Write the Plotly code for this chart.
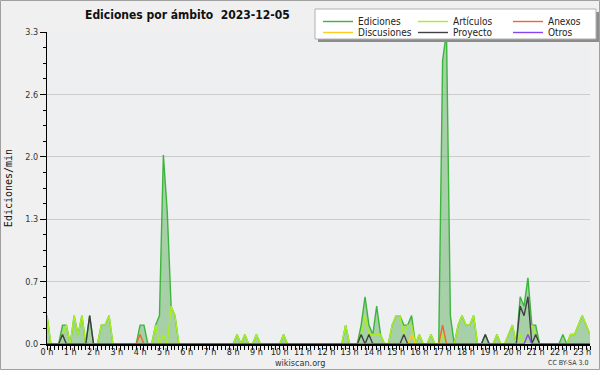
import plotly.graph_objects as go

# ---------------- data (10-minute steps, 00:00 .. 23:20) ----------------
minutes = list(range(0, 1410, 10))

ediciones = [
    0.3, 0, 0, 0, 0.2, 0.2, 0, 0.3, 0.1, 0.3, 0, 0.3,
    0, 0, 0.2, 0.2, 0.3, 0, 0, 0, 0, 0, 0, 0,
    0.2, 0.2, 0, 0, 0.2, 0.3, 2.0, 1.4, 0.4, 0.3, 0, 0,
    0, 0, 0, 0, 0, 0, 0, 0, 0, 0, 0, 0,
    0, 0.1, 0, 0.1, 0, 0, 0.1, 0, 0, 0, 0, 0,
    0, 0.1, 0, 0, 0, 0, 0, 0, 0, 0, 0, 0,
    0, 0, 0, 0, 0, 0.2, 0, 0, 0, 0.2, 0.5, 0.2,
    0.1, 0.4, 0.1, 0, 0, 0.2, 0.3, 0.3, 0.2, 0.2, 0.3, 0,
    0.1, 0, 0, 0.1, 0, 0, 3.0, 3.3, 0.3, 0, 0.2, 0.3,
    0.2, 0.2, 0.3, 0, 0, 0.1, 0, 0, 0.1, 0, 0, 0.1,
    0.2, 0, 0.5, 0.4, 0.7, 0.2, 0.2, 0, 0, 0, 0, 0,
    0, 0.1, 0, 0.1, 0.1, 0.2, 0.3, 0.2, 0.1,
]
articulos = [
    0.3, 0, 0, 0, 0.1, 0.2, 0, 0.3, 0.1, 0.3, 0, 0,
    0, 0, 0.2, 0.2, 0.3, 0, 0, 0, 0, 0, 0, 0,
    0, 0, 0, 0, 0.2, 0, 0.1, 0, 0.4, 0.3, 0, 0,
    0, 0, 0, 0, 0, 0, 0, 0, 0, 0, 0, 0,
    0, 0.1, 0, 0.1, 0, 0, 0.1, 0, 0, 0, 0, 0,
    0, 0.1, 0, 0, 0, 0, 0, 0, 0, 0, 0, 0,
    0, 0, 0, 0, 0, 0.2, 0, 0, 0, 0.1, 0.3, 0.1,
    0.1, 0.1, 0.1, 0, 0, 0.2, 0.3, 0.3, 0.1, 0.2, 0.2, 0,
    0.1, 0, 0, 0.1, 0, 0, 0.1, 0, 0, 0, 0.2, 0.3,
    0.2, 0.2, 0.3, 0, 0, 0, 0, 0, 0.1, 0, 0, 0.1,
    0.2, 0, 0.1, 0, 0.1, 0.2, 0.1, 0, 0, 0, 0, 0,
    0, 0, 0, 0.1, 0.1, 0.2, 0.3, 0.2, 0.1,
]
anexos = [
    0, 0, 0, 0, 0, 0, 0, 0, 0, 0, 0, 0,
    0, 0, 0, 0, 0, 0, 0, 0, 0, 0, 0, 0,
    0.1, 0, 0, 0, 0, 0, 0, 0, 0, 0, 0, 0,
    0, 0, 0, 0, 0, 0, 0, 0, 0, 0, 0, 0,
    0, 0, 0, 0, 0, 0, 0, 0, 0, 0, 0, 0,
    0, 0, 0, 0, 0, 0, 0, 0, 0, 0, 0, 0,
    0, 0, 0, 0, 0, 0, 0, 0, 0, 0, 0, 0,
    0, 0, 0, 0, 0, 0, 0, 0, 0, 0, 0, 0,
    0, 0, 0, 0, 0, 0, 0.2, 0, 0, 0, 0, 0,
    0, 0, 0, 0, 0, 0, 0, 0, 0, 0, 0, 0,
    0, 0, 0, 0, 0, 0, 0, 0, 0, 0, 0, 0,
    0, 0, 0, 0, 0, 0, 0, 0, 0,
]
discusiones = [
    0, 0, 0, 0, 0, 0, 0, 0, 0, 0, 0, 0,
    0, 0, 0, 0, 0, 0, 0, 0, 0, 0, 0, 0,
    0, 0, 0, 0, 0, 0, 0, 0, 0, 0, 0, 0,
    0, 0, 0, 0, 0, 0, 0, 0, 0, 0, 0, 0,
    0, 0, 0, 0, 0, 0, 0, 0, 0, 0, 0, 0,
    0, 0, 0, 0, 0, 0, 0, 0, 0, 0, 0, 0,
    0, 0, 0, 0, 0, 0, 0, 0, 0, 0, 0, 0,
    0, 0, 0, 0, 0, 0, 0, 0, 0, 0, 0.1, 0,
    0, 0, 0, 0, 0, 0, 0, 0, 0, 0, 0, 0,
    0, 0, 0, 0, 0, 0, 0, 0, 0, 0, 0, 0,
    0, 0, 0, 0, 0, 0, 0, 0, 0, 0, 0, 0,
    0, 0, 0, 0, 0, 0, 0, 0, 0,
]
proyecto = [
    0, 0, 0, 0, 0.1, 0, 0, 0, 0, 0, 0, 0.3,
    0, 0, 0, 0, 0, 0, 0, 0, 0, 0, 0, 0,
    0, 0, 0, 0, 0, 0, 0, 0, 0, 0, 0, 0,
    0, 0, 0, 0, 0, 0, 0, 0, 0, 0, 0, 0,
    0, 0, 0, 0, 0, 0, 0, 0, 0, 0, 0, 0,
    0, 0, 0, 0, 0, 0, 0, 0, 0, 0, 0, 0,
    0, 0, 0, 0, 0, 0, 0, 0, 0, 0.1, 0, 0.1,
    0, 0, 0, 0, 0, 0, 0, 0, 0.1, 0, 0, 0,
    0, 0, 0, 0, 0, 0, 0, 0, 0, 0, 0, 0,
    0, 0, 0, 0, 0, 0.1, 0, 0, 0, 0, 0, 0,
    0, 0, 0.4, 0.3, 0.5, 0, 0.1, 0, 0, 0, 0, 0,
    0, 0, 0, 0, 0, 0, 0, 0, 0,
]
otros = [
    0, 0, 0, 0, 0, 0, 0, 0, 0, 0, 0, 0,
    0, 0, 0, 0, 0, 0, 0, 0, 0, 0, 0, 0,
    0, 0, 0, 0, 0, 0, 0, 0, 0, 0, 0, 0,
    0, 0, 0, 0, 0, 0, 0, 0, 0, 0, 0, 0,
    0, 0, 0, 0, 0, 0, 0, 0, 0, 0, 0, 0,
    0, 0, 0, 0, 0, 0, 0, 0, 0, 0, 0, 0,
    0, 0, 0, 0, 0, 0, 0, 0, 0, 0, 0, 0,
    0, 0, 0, 0, 0, 0, 0, 0, 0, 0, 0, 0,
    0, 0, 0, 0, 0, 0, 0, 0, 0, 0, 0, 0,
    0, 0, 0, 0, 0, 0, 0, 0, 0, 0, 0, 0,
    0, 0, 0, 0, 0.1, 0, 0, 0, 0, 0, 0, 0,
    0, 0, 0, 0, 0, 0, 0, 0, 0,
]

hour_ticks = list(range(24))
hour_labels = ["0 h", "1 h", "2 h", "3 h", "4 h", "5 h", "6 h", "7 h", "8 h",
               "9 h", "10 h", "11 h", "12 h", "13 h", "14 h", "15 h", "16 h",
               "17 h", "18 h", "19 h", "20 h", "21 h", "22 h", "23 h"]
y_tickvals = [0, 0.66, 1.32, 1.98, 2.64, 3.3]
y_ticktext = ["0.0", "0.7", "1.3", "2.0", "2.6", "3.3"]

# ---------------- style ----------------
FONT = "DejaVu Sans Condensed, DejaVu Sans, sans-serif"
W, H = 600, 370
ML, MR, MT, MB = 47, 10, 32, 26
PW, PH = W - ML - MR, H - MT - MB


def px(x):
    return (x - ML) / PW


def py(y):
    return (H - MB - y) / PH


x_hours = [m / 60 for m in minutes]

fig = go.Figure()
# filled area of the total (no legend entry; the line below carries it)
fig.add_trace(go.Scatter(
    x=x_hours, y=ediciones, mode="none", fill="tozeroy",
    fillcolor="rgba(70,165,70,0.42)", showlegend=False, hoverinfo="skip"))

series = [
    ("Ediciones", ediciones, "#3db53d", "legend"),
    ("Artículos", articulos, "#aaee22", "legend"),
    ("Anexos", anexos, "#ee6630", "legend"),
    ("Discusiones", discusiones, "#ffcc22", "legend2"),
    ("Proyecto", proyecto, "#404040", "legend2"),
    ("Otros", otros, "#8844ee", "legend2"),
]
for name, vals, col, leg in series:
    fig.add_trace(go.Scatter(
        x=x_hours, y=vals, name=name, mode="lines",
        line=dict(color=col, width=1.4), legend=leg, hoverinfo="skip"))

leg_common = dict(orientation="h", xanchor="left", yanchor="top",
                  bgcolor="rgba(0,0,0,0)", borderwidth=0,
                  font=dict(family=FONT, size=10, color="#222"),
                  entrywidth=50, entrywidthmode="pixels", itemwidth=30,
                  tracegroupgap=0)

fig.update_layout(
    width=W, height=H,
    margin=dict(l=ML, r=MR, t=MT, b=MB, autoexpand=False),
    paper_bgcolor="#f0f0f0", plot_bgcolor="#eeeff1",
    font=dict(family=FONT, size=9, color="#222"),
    title=dict(text="Ediciones por ámbito\u00a0 2023-12-05",
               xref="container", yref="container", x=85 / W, y=1 - 15 / H,
               xanchor="left", yanchor="middle",
               font=dict(family=FONT, size=12, color="#111", weight="bold")),
    legend=dict(x=px(318), y=py(7), **leg_common),
    legend2=dict(x=px(318), y=py(18), **leg_common),
    xaxis=dict(range=[0, minutes[-1] / 60], tickmode="array", tickvals=hour_ticks,
               ticktext=hour_labels, ticks="outside", ticklen=4, tickwidth=1,
               tickcolor="black", showline=True, linecolor="black", linewidth=2,
               showgrid=False, zeroline=False, ticklabelstandoff=-6,
               tickfont=dict(family=FONT, size=9, color="#222"),
               minor=dict(tickmode="linear", tick0=0, dtick=1 / 6, ticks="outside",
                          ticklen=4, tickwidth=1, tickcolor="black", showgrid=False)),
    yaxis=dict(range=[0, 3.3], tickmode="array", tickvals=y_tickvals,
               ticktext=y_ticktext, ticks="outside", ticklen=6, tickwidth=1,
               tickcolor="black", showline=True, linecolor="black", linewidth=1,
               showgrid=True, gridcolor="#cccccc", gridwidth=1, zeroline=False,
               tickfont=dict(family=FONT, size=9, color="#333"),
               minor=dict(tickmode="linear", tick0=0, dtick=0.165, ticks="outside",
                          ticklen=3, tickwidth=1, tickcolor="black", showgrid=False),
               title=dict(text="Ediciones/min", standoff=10,
                          font=dict(family="DejaVu Sans Mono", size=10, color="#111"))),
    shapes=[
        # legend shadow + box
        dict(type="rect", xref="paper", yref="paper", layer="above",
             x0=px(318), x1=px(599), y0=py(42), y1=py(12),
             fillcolor="#8c8c8c", line=dict(width=0)),
        dict(type="rect", xref="paper", yref="paper", layer="above",
             x0=px(315), x1=px(596), y0=py(39), y1=py(9),
             fillcolor="white", line=dict(color="#b0b0b0", width=1)),
        # outer frame
        dict(type="rect", xref="paper", yref="paper", layer="above",
             x0=px(0.5), x1=px(599.5), y0=py(369.5), y1=py(0.5),
             fillcolor="rgba(0,0,0,0)", line=dict(color="#a0a0a0", width=1)),
    ],
    annotations=[
        dict(text="wikiscan.org", xref="paper", yref="paper", x=px(300), y=py(362.5),
             xanchor="center", yanchor="middle", showarrow=False,
             font=dict(family=FONT, size=9, color="#333")),
        dict(text="CC BY-SA 3.0", xref="paper", yref="paper", x=px(590), y=py(362.5),
             xanchor="right", yanchor="middle", showarrow=False,
             font=dict(family=FONT, size=7, color="#333")),
    ],
)

fig.write_html("out.html", config={"displayModeBar": False},
               post_script="document.body.style.margin='0';"
                           "document.body.style.overflow='hidden';")
